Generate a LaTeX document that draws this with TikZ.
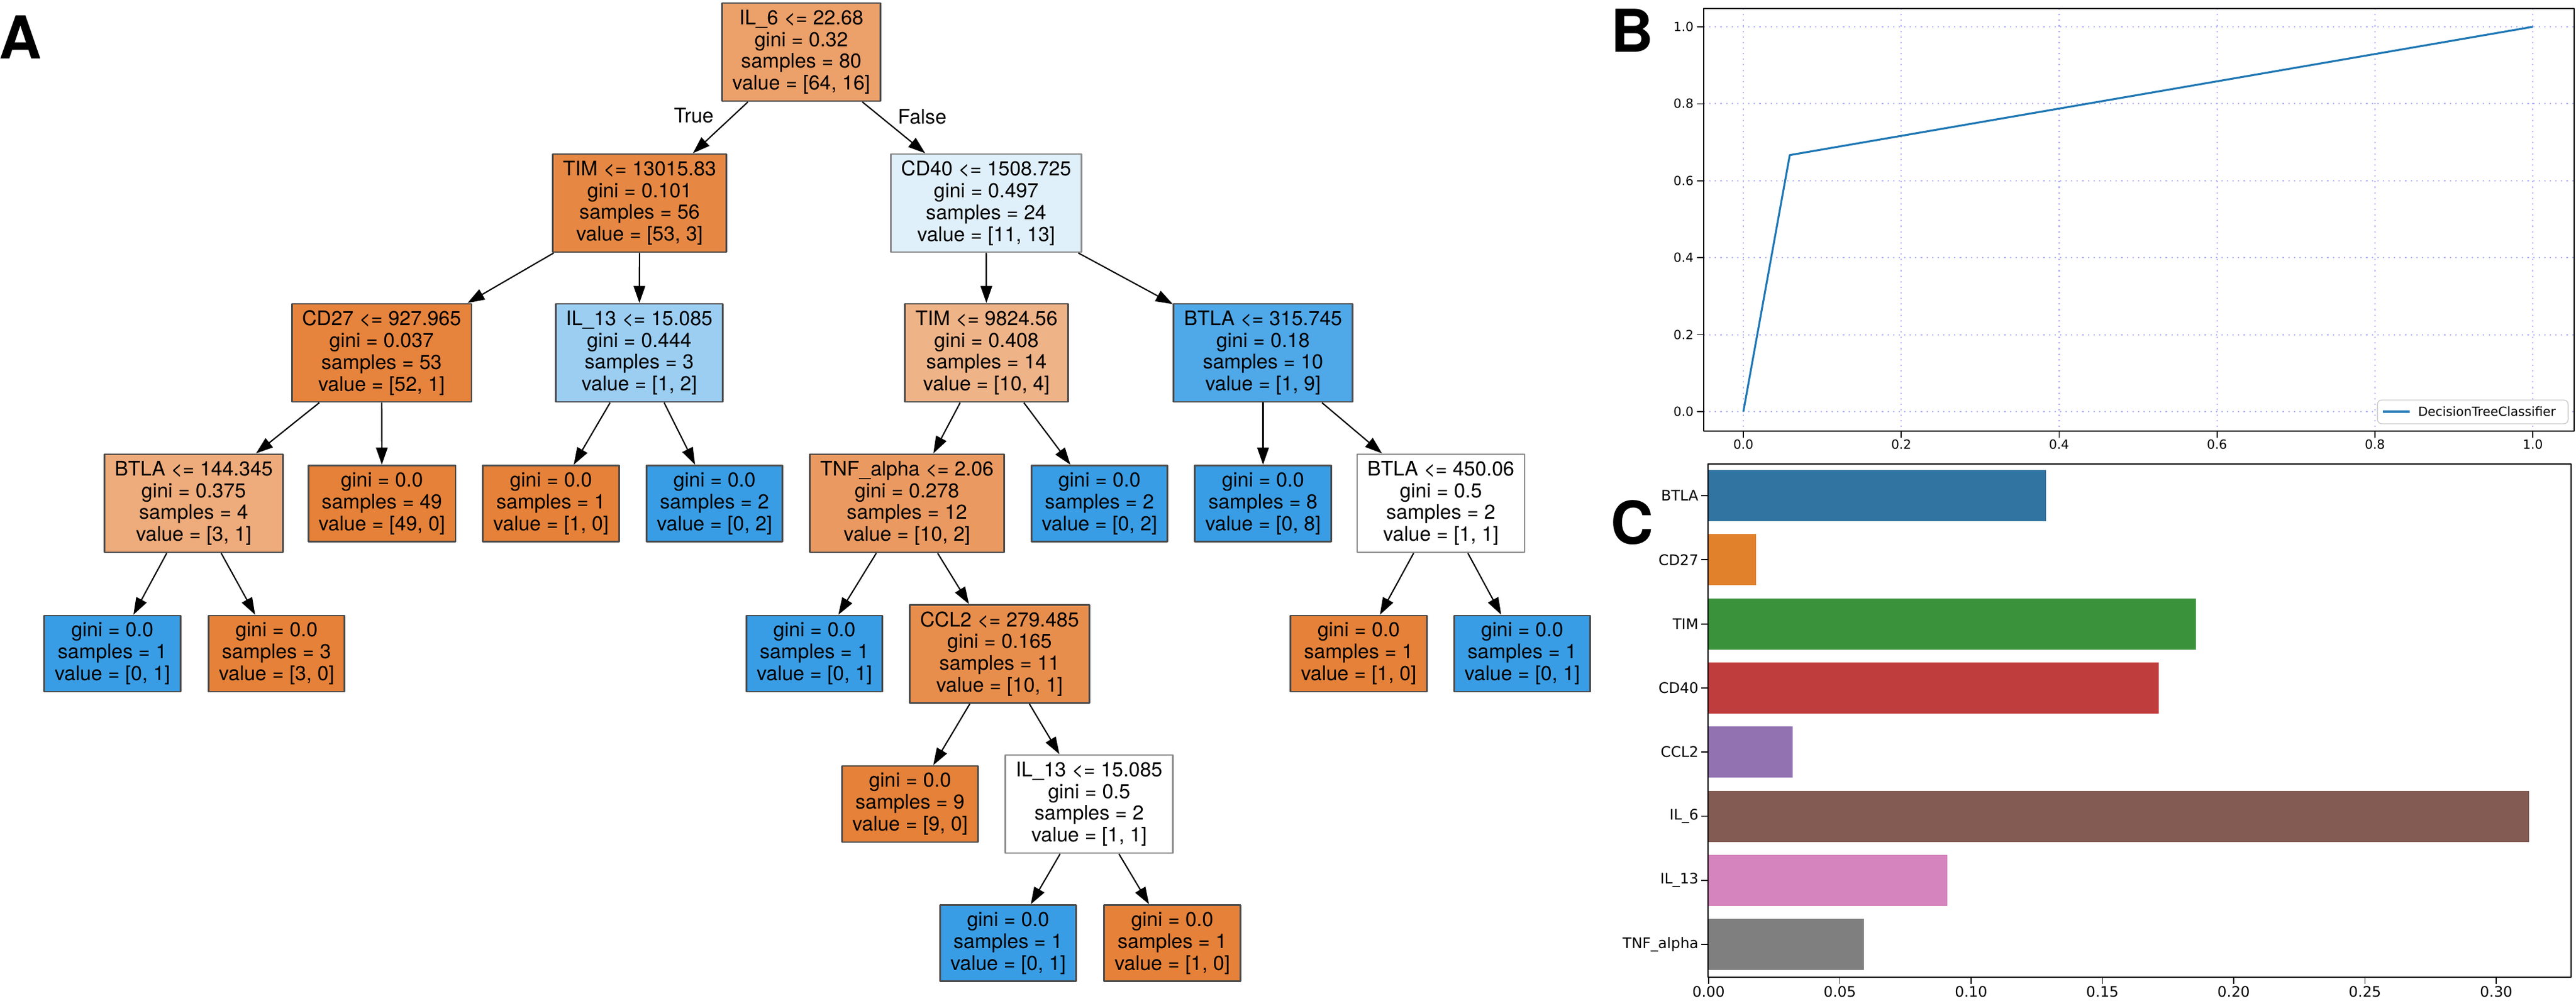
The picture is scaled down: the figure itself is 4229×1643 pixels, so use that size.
\documentclass[tikz,border=0pt]{standalone}
\usepackage{fontspec}
\setmainfont{TeX Gyre Heros}
\newfontfamily\plotfont{DejaVu Sans}
\usetikzlibrary{arrows.meta}
\definecolor{leafor}{HTML}{E58139}
\definecolor{leafbl}{HTML}{399DE5}
\definecolor{rootc}{HTML}{ECA06A}
\definecolor{timc}{HTML}{E68844}
\definecolor{cdfortyc}{HTML}{E0F0FB}
\definecolor{cdtwentyc}{HTML}{E6833D}
\definecolor{ilthirc}{HTML}{9CCEF2}
\definecolor{timtwoc}{HTML}{EFB388}
\definecolor{btlac}{HTML}{4FA8E8}
\definecolor{btlatwoc}{HTML}{EEAB7B}
\definecolor{tnfc}{HTML}{EA9A61}
\definecolor{cclc}{HTML}{E88E4D}
\definecolor{rocblue}{HTML}{1F77B4}
\definecolor{barA}{HTML}{3274A1}
\definecolor{barB}{HTML}{E1812C}
\definecolor{barC}{HTML}{3A923A}
\definecolor{barD}{HTML}{C03D3E}
\definecolor{barE}{HTML}{9372B2}
\definecolor{barF}{HTML}{845B53}
\definecolor{barG}{HTML}{D684BD}
\definecolor{barH}{HTML}{7F7F7F}
\newcommand\treefont{\fontsize{9.4}{10.2}\selectfont}
\newcommand\rocfont{\plotfont\fontsize{5.9}{7}\selectfont}
\newcommand\barfont{\plotfont\fontsize{6.8}{8}\selectfont}
\newcommand\panelfont{\fontsize{27.6}{30}\selectfont\bfseries}
\begin{document}
\begin{tikzpicture}[x=.1mm,y=-.1mm,>={Triangle[length=.28cm,width=.19cm]}, line join=round,
  tnode/.style={draw=black!70, line width=.8pt, inner xsep=.17cm, inner ysep=0pt, align=center, font=\treefont, minimum height=1.61cm},
  leaf/.style={tnode, minimum height=1.25cm},
  pale/.style={draw=black!45},
  edge/.style={->, line width=.6pt},
  gridline/.style={blue!30, dotted, line width=.6pt}]
\useasboundingbox (0,0) rectangle (4229,1643);
% A: decision tree
\node[tnode,fill=rootc] (root) at (1315.5,85.5) {IL\_6 <= 22.68\\gini = 0.32\\samples = 80\\value = [64, 16]};
\node[tnode,fill=timc] (tim1) at (1050,333.5) {TIM <= 13015.83\\gini = 0.101\\samples = 56\\value = [53, 3]};
\node[tnode,pale,fill=cdfortyc] (cd40) at (1619,333.5) {CD40 <= 1508.725\\gini = 0.497\\samples = 24\\value = [11, 13]};
\node[tnode,fill=cdtwentyc] (cd27) at (626.5,579.5) {CD27 <= 927.965\\gini = 0.037\\samples = 53\\value = [52, 1]};
\node[tnode,fill=ilthirc] (il13a) at (1049.5,579.5) {IL\_13 <= 15.085\\gini = 0.444\\samples = 3\\value = [1, 2]};
\node[tnode,fill=timtwoc] (tim2) at (1619.5,579.5) {TIM <= 9824.56\\gini = 0.408\\samples = 14\\value = [10, 4]};
\node[tnode,fill=btlac] (btla1) at (2073.5,579.5) {BTLA <= 315.745\\gini = 0.18\\samples = 10\\value = [1, 9]};
\node[tnode,fill=btlatwoc] (btla2) at (318,826.5) {BTLA <= 144.345\\gini = 0.375\\samples = 4\\value = [3, 1]};
\node[leaf,fill=leafor] (lf49) at (627,827) {gini = 0.0\\samples = 49\\value = [49, 0]};
\node[leaf,fill=leafor] (lfa) at (904.5,827) {gini = 0.0\\samples = 1\\value = [1, 0]};
\node[leaf,fill=leafbl] (lfb) at (1173,827) {gini = 0.0\\samples = 2\\value = [0, 2]};
\node[tnode,fill=tnfc] (tnf) at (1489,826.5) {TNF\_alpha <= 2.06\\gini = 0.278\\samples = 12\\value = [10, 2]};
\node[leaf,fill=leafbl] (lfc) at (1805,827) {gini = 0.0\\samples = 2\\value = [0, 2]};
\node[leaf,fill=leafbl] (lf8) at (2073.5,827) {gini = 0.0\\samples = 8\\value = [0, 8]};
\node[tnode,pale,fill=white] (btla3) at (2365.5,826.5) {BTLA <= 450.06\\gini = 0.5\\samples = 2\\value = [1, 1]};
\node[leaf,fill=leafbl] (lfd) at (184.5,1073.5) {gini = 0.0\\samples = 1\\value = [0, 1]};
\node[leaf,fill=leafor] (lfe) at (454,1073.5) {gini = 0.0\\samples = 3\\value = [3, 0]};
\node[leaf,fill=leafbl] (lff) at (1337,1073.5) {gini = 0.0\\samples = 1\\value = [0, 1]};
\node[tnode,fill=cclc] (ccl2) at (1641,1074) {CCL2 <= 279.485\\gini = 0.165\\samples = 11\\value = [10, 1]};
\node[leaf,fill=leafor] (lfg) at (2230.5,1073.5) {gini = 0.0\\samples = 1\\value = [1, 0]};
\node[leaf,fill=leafbl] (lfh) at (2499,1073.5) {gini = 0.0\\samples = 1\\value = [0, 1]};
\node[leaf,fill=leafor] (lfi) at (1494,1320.5) {gini = 0.0\\samples = 9\\value = [9, 0]};
\node[tnode,pale,fill=white] (il13b) at (1788,1320.5) {IL\_13 <= 15.085\\gini = 0.5\\samples = 2\\value = [1, 1]};
\node[leaf,fill=leafbl] (lfj) at (1655,1549) {gini = 0.0\\samples = 1\\value = [0, 1]};
\node[leaf,fill=leafor] (lfk) at (1924.5,1549) {gini = 0.0\\samples = 1\\value = [1, 0]};
\foreach \a/\b in {root/tim1,root/cd40,tim1/cd27,tim1/il13a,cd40/tim2,cd40/btla1,cd27/btla2,cd27/lf49,
  il13a/lfa,il13a/lfb,tim2/tnf,tim2/lfc,btla1/lf8,btla1/btla3,btla2/lfd,btla2/lfe,tnf/lff,tnf/ccl2,
  btla3/lfg,btla3/lfh,ccl2/lfi,ccl2/il13b,il13b/lfj,il13b/lfk}
  \draw[edge] (\a) -- (\b);
\node[font=\treefont] (truelab) at (1139,190) {True};
\node[font=\treefont] (falselab) at (1514,192) {False};
% B: ROC curve
\foreach \i/\t in {0/0.0,1/0.2,2/0.4,3/0.6,4/0.8,5/1.0}{
  \draw[gridline] ({2862+259.2*\i},14) -- ({2862+259.2*\i},708);
  \draw[gridline] (2797,{676-126.4*\i}) -- (4226,{676-126.4*\i});
  \draw[line width=.5pt] ({2862+259.2*\i},708) -- ({2862+259.2*\i},719) (2786,{676-126.4*\i}) -- (2797,{676-126.4*\i});
  \node[font=\rocfont,anchor=north,inner sep=0pt] (bx\i) at ({2862+259.2*\i},721) {\t};
  \node[font=\rocfont,anchor=east,inner sep=0pt] (by\i) at (2781,{676-126.4*\i}) {\t};
}
\draw[rocblue,line width=.9pt] (2862,676) -- (2938.2,254.7) -- (4158,44);
\draw[line width=.5pt] (2797,14) rectangle (4226,708);
\draw[black!20,fill=white,rounded corners=2pt] (3903,657) rectangle (4216,696);
\draw[rocblue,line width=.9pt] (3912,676) -- (3956,676);
\node[font=\rocfont,anchor=west,inner sep=0pt] (legtext) at (3969,676) {DecisionTreeClassifier};
% C: feature importances
\foreach \n/\v/\c [count=\k from 0] in {BTLA/0.1286/barA,CD27/0.018/barB,TIM/0.1855/barC,CD40/0.1714/barD,
  CCL2/0.0321/barE,IL\_6/0.3126/barF,IL\_13/0.0909/barG,TNF\_alpha/0.0591/barH}{
  \fill[\c] (2805,{772+105.3*\k}) rectangle ({2805+4310*\v},{856+105.3*\k});
  \draw[line width=.5pt] (2793,{814+105.3*\k}) -- (2804,{814+105.3*\k});
  \node[font=\barfont,anchor=east,inner sep=0pt] (cy\k) at (2789,{814+105.3*\k}) {\n};
}
\foreach \i/\t in {0/0.00,1/0.05,2/0.10,3/0.15,4/0.20,5/0.25,6/0.30}{
  \draw[line width=.5pt] ({2805+215.5*\i},1605) -- ({2805+215.5*\i},1616);
  \node[font=\barfont,anchor=north,inner sep=0pt] (cx\i) at ({2805+215.5*\i},1619) {\t};
}
\draw[line width=.5pt] (2804,762) rectangle (4221,1605);
% panel letters
\node[font=\panelfont,inner sep=0pt] (panA) at (34,61) {A};
\node[font=\panelfont,inner sep=0pt] (panB) at (2679,50) {B};
\node[font=\panelfont,inner sep=0pt] (panC) at (2679,858) {C};
\end{tikzpicture}
\end{document}
